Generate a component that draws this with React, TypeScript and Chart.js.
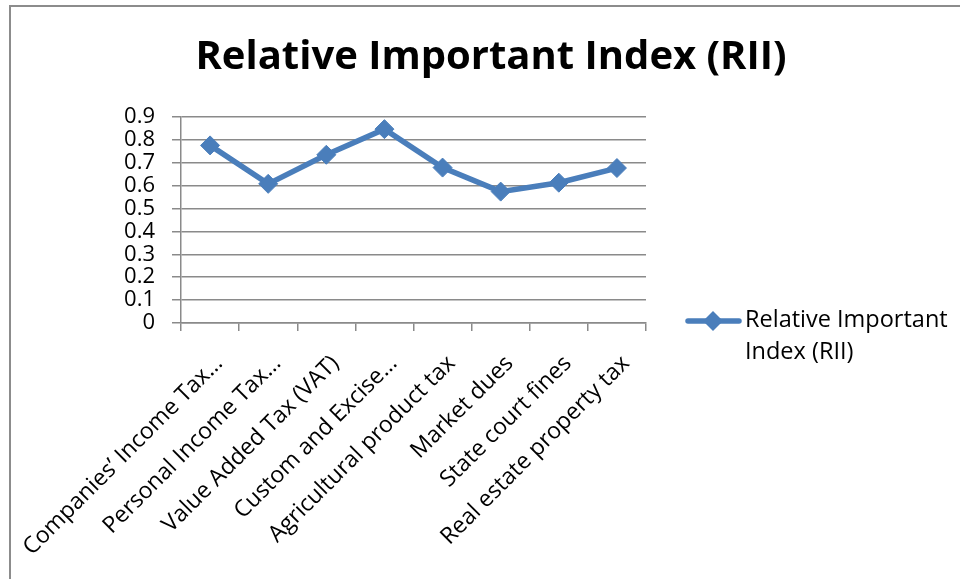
import { useEffect, useRef } from 'react';
import { Chart, registerables } from 'chart.js';

Chart.register(...registerables);

// Tax sources, as labelled along the category axis
const categories = [
  'Companies’ Income Tax…',
  'Personal Income Tax…',
  'Value Added Tax (VAT)',
  'Custom and Excise…',
  'Agricultural product tax',
  'Market dues',
  'State court fines',
  'Real estate property tax',
];

// Relative Important Index per tax source
const riiValues = [0.776, 0.608, 0.735, 0.847, 0.679, 0.574, 0.613, 0.677];

const chartTitle = 'Relative Important Index (RII)';
const seriesName = 'Relative Important Index (RII)';
const legendLines = ['Relative Important', 'Index (RII)'];

const yMin = 0;
const yMax = 0.9;
const yStep = 0.1;

const LINE_BLUE = '#4a7ebb';
const GRID_GRAY = '#8a8a8a';
const FONT = '"Open Sans", "Noto Sans", sans-serif';

// Draws the heading and the line-with-marker legend to the right of the plot
const decorations = {
  id: 'decorations',
  afterDraw(chart: any) {
    const ctx: CanvasRenderingContext2D = chart.ctx;
    ctx.save();
    ctx.fillStyle = '#000';
    ctx.font = `bold 40px ${FONT}`;
    ctx.textAlign = 'center';
    ctx.textBaseline = 'middle';
    ctx.fillText(chartTitle, 491, 58);

    const ds = chart.data.datasets[0];
    const ly = 321;
    ctx.strokeStyle = ds.borderColor;
    ctx.lineWidth = 5.5;
    ctx.lineCap = 'round';
    ctx.beginPath();
    ctx.moveTo(688, ly);
    ctx.lineTo(739, ly);
    ctx.stroke();

    const r = 10;
    const cx = 713;
    ctx.fillStyle = ds.pointBackgroundColor;
    ctx.beginPath();
    ctx.moveTo(cx, ly - r);
    ctx.lineTo(cx + r, ly);
    ctx.lineTo(cx, ly + r);
    ctx.lineTo(cx - r, ly);
    ctx.closePath();
    ctx.fill();

    ctx.fillStyle = '#000';
    ctx.font = `23.5px ${FONT}`;
    ctx.textAlign = 'left';
    ctx.textBaseline = 'middle';
    legendLines.forEach((line, i) => {
      ctx.fillText(line, 745, 320 + i * 32.5);
    });
    ctx.restore();
  },
};

export default function App() {
  const canvasRef = useRef<HTMLCanvasElement | null>(null);

  useEffect(() => {
    if (!canvasRef.current) return;
    const chart = new Chart(canvasRef.current, {
      type: 'line',
      data: {
        labels: categories,
        datasets: [
          {
            label: seriesName,
            data: riiValues,
            borderColor: LINE_BLUE,
            backgroundColor: LINE_BLUE,
            pointBackgroundColor: LINE_BLUE,
            pointBorderColor: LINE_BLUE,
            borderWidth: 5.5,
            pointStyle: 'rectRot',
            pointRadius: 9.5,
            pointBorderWidth: 1,
            tension: 0,
            fill: false,
          },
        ],
      },
      options: {
        animation: false,
        responsive: false,
        maintainAspectRatio: false,
        devicePixelRatio: 1,
        layout: { padding: { left: 0, top: 117, right: 314, bottom: 0 } },
        plugins: {
          legend: { display: false },
          title: { display: false },
          tooltip: { enabled: false },
        },
        scales: {
          x: {
            type: 'category',
            offset: true,
            afterFit: (scale: any) => {
              scale.height = 579 - 323;
              // rotated labels may spill left into the page; keep the plot edge fixed
              scale.paddingLeft = 0;
              scale.paddingRight = 0;
            },
            grid: {
              display: true,
              drawOnChartArea: false,
              drawTicks: true,
              tickLength: 8,
              color: GRID_GRAY,
              lineWidth: 1.5,
              offset: true,
            },
            border: { display: true, color: GRID_GRAY, width: 1.5 },
            ticks: {
              autoSkip: false,
              maxRotation: 45,
              minRotation: 45,
              color: '#000',
              padding: 19,
              labelOffset: 9,
              font: { family: FONT, size: 23 },
            },
          },
          y: {
            min: yMin,
            max: yMax,
            afterFit: (scale: any) => {
              scale.width = 181;
            },
            grid: {
              color: GRID_GRAY,
              lineWidth: 1.5,
              drawTicks: true,
              tickLength: 9,
            },
            border: { display: true, color: GRID_GRAY, width: 1.5 },
            ticks: {
              autoSkip: false,
              stepSize: yStep,
              color: '#000',
              padding: 17,
              font: { family: FONT, size: 22 },
              callback: (v: any) => String(Math.round(Number(v) * 10) / 10),
            },
          },
        },
      },
      plugins: [decorations],
    });
    return () => chart.destroy();
  }, []);

  return (
    <div style={{ position: 'fixed', left: 0, top: 0, width: 960, height: 579, background: '#fff' }}>
      <div
        style={{
          position: 'absolute',
          left: 9,
          top: 5,
          right: -10,
          bottom: -10,
          borderTop: '2px solid #8c8c8c',
          borderLeft: '2px solid #8c8c8c',
        }}
      />
      <canvas
        ref={canvasRef}
        width={960}
        height={579}
        style={{ position: 'absolute', left: 0, top: 0, width: 960, height: 579 }}
      />
    </div>
  );
}
